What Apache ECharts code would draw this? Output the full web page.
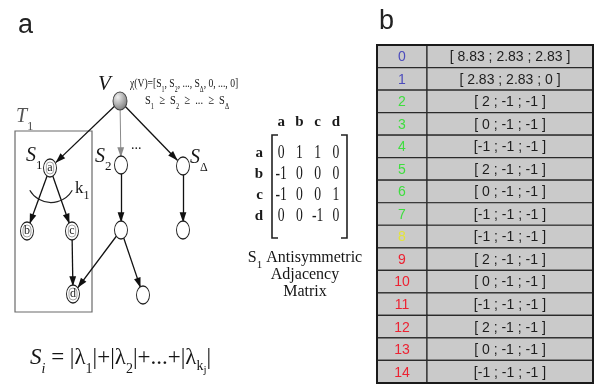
<!DOCTYPE html>
<html>
<head>
<meta charset="utf-8">
<script src="https://cdn.jsdelivr.net/npm/echarts@6/dist/echarts.min.js"></script>
<style>
  html, body { margin: 0; padding: 0; background: #fff; }
  #main { width: 597px; height: 387px; }
</style>
</head>
<body>
<div id="main"></div>
<script>
// panel b: one vector per vertex
var rowIds = ['0', '1', '2', '3', '4', '5', '6', '7', '8', '9', '10', '11', '12', '13', '14'];
var rowLevel = [0, 0, 1, 1, 1, 1, 1, 1, 2, 3, 3, 3, 3, 3, 3];
var vecFirst = [8.83, 2.83, 2, 0, -1, 2, 0, -1, -1, 2, 0, -1, 2, 0, -1];
var vecSecond = [2.83, 2.83, -1, -1, -1, -1, -1, -1, -1, -1, -1, -1, -1, -1, -1];
var vecThird = [2.83, 0, -1, -1, -1, -1, -1, -1, -1, -1, -1, -1, -1, -1, -1];

// panel a: antisymmetric adjacency matrix of S1
var matrixNames = ['a', 'b', 'c', 'd'];
var matrixRows = [
    [0, 1, 1, 0],
    [-1, 0, 0, 0],
    [-1, 0, 0, 1],
    [0, 0, -1, 0]
];

// panel a: tree (positions in canvas units)
var nodeNames = ['V', 'a', 'S2', 'SD', 'b', 'c', 'S2b', 'SDb', 'd', 'e'];
var nodeLetters = ['', 'a', '', '', 'b', 'c', '', '', 'd', ''];
var nodeX = [120, 50, 121, 183, 27, 72, 121, 183, 73, 143];
var nodeY = [101, 168, 165, 166, 231, 231, 230, 230, 294, 295];
var treeEdges = [[0, 1], [0, 2], [0, 3], [1, 4], [1, 5], [5, 8], [2, 6], [3, 7], [6, 8], [6, 9]];

var serif = '"Liberation Serif", "DejaVu Serif", serif';
var sans = '"Liberation Sans", Arial, sans-serif';
var levelColors = ['#4c4cbc', '#3ede3e', '#e4e43a', '#ec2232'];
// triangle whose tip sits at the symbol centre, so it ends on the node outline
var arrowHead = 'path://M0,10 L3.4,20 L-3.4,20 Z M-10,0 L-10,0 M10,0 L10,0';

function vectorText(i) {
    var first = vecFirst[i] < 0 ? '[' : '[ ';
    return first + vecFirst[i] + ' ; ' + vecSecond[i] + ' ; ' + vecThird[i] + ' ]';
}

function richSet(big, small, color) {
    var pad = Math.round(big * 0.3);
    return {
        I: {fontFamily: serif, fontStyle: 'italic', fontSize: big, fill: color, padding: [0, 0, pad, 0], verticalAlign: 'bottom'},
        R: {fontFamily: serif, fontSize: big, fill: color, padding: [0, 0, pad, 0], verticalAlign: 'bottom'},
        s: {fontFamily: serif, fontSize: small, fill: color, verticalAlign: 'bottom'},
        si: {fontFamily: serif, fontStyle: 'italic', fontSize: small, fill: color, verticalAlign: 'bottom'},
        sk: {fontFamily: serif, fontSize: small, fill: color, padding: [0, 0, 3, 0], verticalAlign: 'bottom'},
        ss: {fontFamily: serif, fontSize: Math.round(small * 0.8), fill: color, verticalAlign: 'bottom'}
    };
}

function label(x, y, text, big, small, extra) {
    var el = {
        type: 'text', x: x, y: y, z: 10,
        style: {text: text, rich: richSet(big, small, '#151515'), align: 'left', verticalAlign: 'top'}
    };
    if (extra) {
        for (var k in extra) el[k] = extra[k];
    }
    return el;
}

var myChart = echarts.init(document.getElementById('main'));

var nodeData = nodeNames.map(function (n, i) {
    var item = {name: n, value: [nodeX[i], nodeY[i]]};
    if (!nodeLetters[i]) item.label = {show: false};
    if (i === 0) {
        item.symbolSize = [14, 18];
        item.itemStyle = {
            color: new echarts.graphic.RadialGradient(0.35, 0.3, 0.8, [
                {offset: 0, color: '#f0f0f0'},
                {offset: 1, color: '#707070'}
            ]),
            borderColor: '#444'
        };
    }
    return item;
});

var linkData = treeEdges.map(function (e, i) {
    var link = {source: e[0], target: e[1]};
    if (i === 1) link.lineStyle = {color: '#8a8a8a', width: 1};
    return link;
});

var matrixData = [];
matrixRows.forEach(function (row, i) {
    row.forEach(function (v, j) {
        matrixData.push([j, i, v]);
    });
});

var axisLabelStyle = {fontFamily: serif, fontWeight: 'bold', fontSize: 15, color: '#1a1a1a'};

var option = {
    animation: false,
    grid: [
        {left: 0, top: 0, width: 597, height: 387, outerBoundsMode: 'none'},
        {left: 377, top: 45, width: 216, height: 338, outerBoundsMode: 'none'},
        {left: 272, top: 142, width: 73, height: 85, outerBoundsMode: 'none'}
    ],
    xAxis: [
        {gridIndex: 0, type: 'value', min: 0, max: 597, show: false},
        {gridIndex: 1, type: 'value', min: 0, max: 216, show: false},
        {
            gridIndex: 2, type: 'category', position: 'top', data: matrixNames,
            axisLine: {show: false}, axisTick: {show: false}, splitLine: {show: false},
            axisLabel: Object.assign({margin: 12}, axisLabelStyle)
        }
    ],
    yAxis: [
        {gridIndex: 0, type: 'value', min: 0, max: 387, inverse: true, show: false},
        {gridIndex: 1, type: 'category', data: rowIds, inverse: true, show: false},
        {
            gridIndex: 2, type: 'category', data: matrixNames, inverse: true,
            axisLine: {show: false}, axisTick: {show: false}, splitLine: {show: false},
            axisLabel: Object.assign({margin: 9}, axisLabelStyle)
        }
    ],
    series: [
        {
            type: 'graph',
            coordinateSystem: 'cartesian2d',
            xAxisIndex: 0,
            yAxisIndex: 0,
            silent: true,
            symbol: 'circle',
            symbolSize: [13, 18],
            edgeSymbol: ['none', arrowHead],
            edgeSymbolSize: [0, 20],
            itemStyle: {color: '#fff', borderColor: '#222', borderWidth: 1.1},
            label: {
                show: true,
                position: 'inside',
                formatter: function (p) { return nodeLetters[p.dataIndex]; },
                fontFamily: serif,
                fontSize: 12,
                color: '#222',
                borderColor: '#666',
                borderWidth: 0.6,
                borderRadius: 6,
                padding: [0, 1, 0, 1]
            },
            lineStyle: {color: '#111', width: 1.3, opacity: 1, curveness: 0},
            data: nodeData,
            links: linkData,
            z: 5
        },
        {
            type: 'custom',
            xAxisIndex: 1,
            yAxisIndex: 1,
            silent: true,
            data: rowIds.map(function (id, i) { return [0, i]; }),
            renderItem: function (params, api) {
                var i = api.value(1);
                var c = api.coord([0, i]);
                var h = api.size([0, 1])[1];
                var mid = api.coord([50, i])[0];
                var right = api.coord([216, i])[0];
                var top = c[1] - h / 2;
                var cell = {fill: '#cacaca', stroke: '#2a2a2a', lineWidth: 1.2};
                return {
                    type: 'group',
                    children: [
                        {type: 'rect', shape: {x: c[0], y: top, width: mid - c[0], height: h}, style: cell},
                        {type: 'rect', shape: {x: mid, y: top, width: right - mid, height: h}, style: cell},
                        {
                            type: 'text',
                            style: {
                                x: (c[0] + mid) / 2, y: c[1] + 1, text: rowIds[i],
                                fill: levelColors[rowLevel[i]], fontFamily: sans, fontSize: 14,
                                align: 'center', verticalAlign: 'middle'
                            }
                        },
                        {
                            type: 'text',
                            style: {
                                x: (mid + right) / 2, y: c[1] + 1, text: vectorText(i),
                                fill: '#1e1e1e', fontFamily: sans, fontSize: 14,
                                align: 'center', verticalAlign: 'middle'
                            }
                        }
                    ]
                };
            }
        },
        {
            type: 'custom',
            xAxisIndex: 2,
            yAxisIndex: 2,
            silent: true,
            data: matrixData,
            renderItem: function (params, api) {
                var p = api.coord([api.value(0), api.value(1)]);
                return {
                    type: 'text',
                    x: p[0],
                    y: p[1],
                    scaleX: 0.72,
                    style: {
                        x: 0, y: 0, text: String(api.value(2)),
                        fontFamily: serif, fontSize: 19, fill: '#1a1a1a',
                        align: 'center', verticalAlign: 'middle'
                    }
                };
            }
        }
    ],
    graphic: [
        {type: 'text', x: 18, y: 12, style: {text: 'a', fontFamily: sans, fontSize: 27, fill: '#222', verticalAlign: 'top'}},
        {type: 'text', x: 379, y: 8, style: {text: 'b', fontFamily: sans, fontSize: 27, fill: '#222', verticalAlign: 'top'}},
        // subtree box
        {type: 'rect', shape: {x: 15, y: 131, width: 77, height: 181}, style: {fill: 'none', stroke: '#6a6a6a', lineWidth: 1.2}},
        // k1 arc
        {type: 'arc', shape: {cx: 51, cy: 178, r: 24.5, startAngle: 0.52, endAngle: 2.62, clockwise: true},
            style: {fill: 'none', stroke: '#222', lineWidth: 1.2}},
        label(98, 74, '{I|V}', 21, 13),
        label(130, 77, '{R|χ(V)=[S}{s|1}{R|, S}{s|2}{R|, ..., S}{s|Δ}{R|, 0, ..., 0]}', 13, 8, {scaleX: 0.74}),
        label(145, 94, '{R|S}{s|1}{R|  ≥  S}{s|2}{R|  ≥  ...  ≥  S}{s|Δ}', 13, 8, {scaleX: 0.8}),
        {
            type: 'text', x: 16, y: 107, z: 10,
            style: {text: '{I|T}{s|1}', rich: richSet(20, 13, '#555'), verticalAlign: 'top'}
        },
        label(26, 146, '{I|S}{s|1}', 20, 13),
        label(95, 147, '{I|S}{s|2}', 20, 13),
        label(131, 138, '{R|...}', 14, 9),
        label(190, 148, '{I|S}{s|Δ}', 20, 12),
        label(75, 180, '{R|k}{s|1}', 17, 12),
        label(30, 346, '{I|S}{si|i}{R| = |λ}{s|1}{R||+|λ}{s|2}{R||+...+|λ}{sk|k}{ss|j}{R||}', 23, 14),
        {
            type: 'text', x: 305, y: 250, z: 10,
            style: {text: '{R|S}{s|1}{R| Antisymmetric}', rich: richSet(16, 11, '#151515'), align: 'center', verticalAlign: 'top'}
        },
        {type: 'text', x: 305, y: 267, style: {text: 'Adjacency', fontFamily: serif, fontSize: 16, fill: '#151515', align: 'center', verticalAlign: 'top'}},
        {type: 'text', x: 305, y: 284, style: {text: 'Matrix', fontFamily: serif, fontSize: 16, fill: '#151515', align: 'center', verticalAlign: 'top'}},
        // matrix brackets
        {type: 'polyline', shape: {points: [[278, 135], [272, 135], [272, 238], [278, 238]]}, style: {fill: 'none', stroke: '#222', lineWidth: 1.6}},
        {type: 'polyline', shape: {points: [[341, 135], [347, 135], [347, 238], [341, 238]]}, style: {fill: 'none', stroke: '#222', lineWidth: 1.6}},
        // table outline
        {type: 'rect', z: 20, shape: {x: 377, y: 45, width: 216, height: 338}, style: {fill: 'none', stroke: '#1a1a1a', lineWidth: 2}}
    ]
};

myChart.setOption(option);
</script>
</body>
</html>
